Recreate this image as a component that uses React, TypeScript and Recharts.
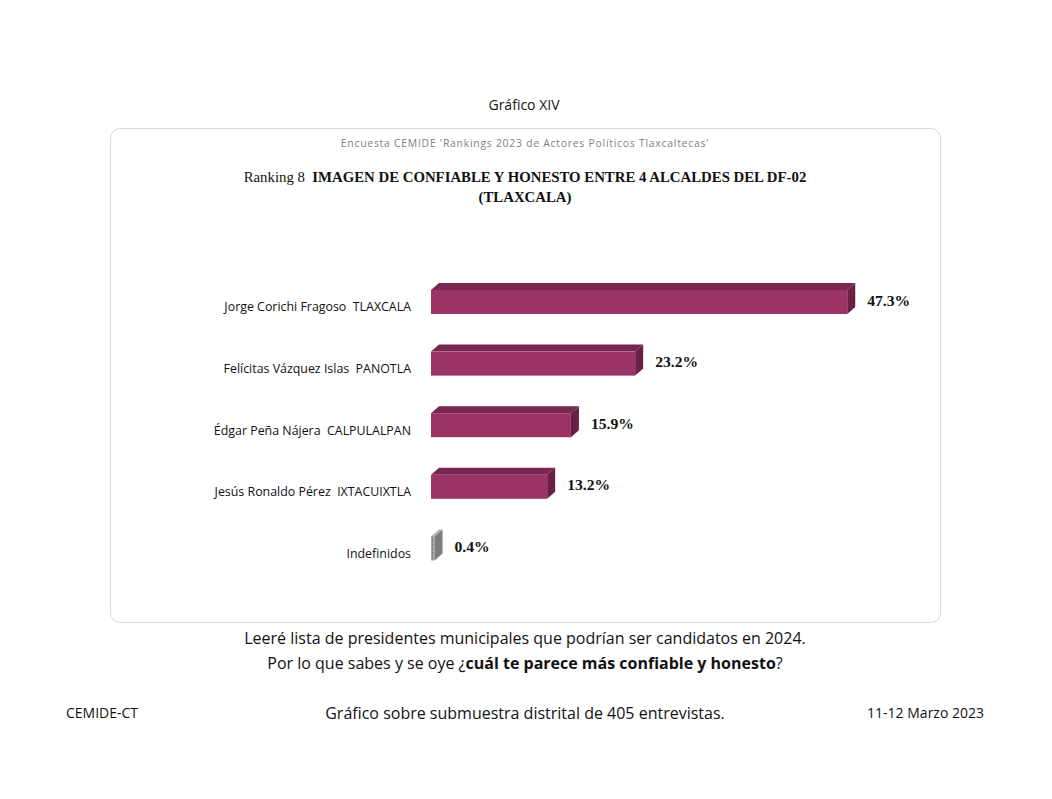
import React from 'react';
import { BarChart, Bar, XAxis, YAxis, LabelList } from 'recharts';

const categories = [
  'Jorge Corichi Fragoso  TLAXCALA',
  'Felícitas Vázquez Islas  PANOTLA',
  'Édgar Peña Nájera  CALPULALPAN',
  'Jesús Ronaldo Pérez  IXTACUIXTLA',
  'Indefinidos',
];
const values = [47.3, 23.2, 15.9, 13.2, 0.4];

const data = categories.map((name, i) => ({ name, value: values[i] }));

const SANS = '"Open Sans", sans-serif';
const SERIF = '"Liberation Serif", serif';
const DX = 8;
const DY = 7;

const Bar3D = (props: any) => {
  const { x, y, width, height, payload } = props;
  const grey = payload.name === 'Indefinidos';
  const front = grey ? 'url(#dots)' : '#9b3366';
  const top = grey ? '#b5b5b5' : '#7a2652';
  const side = grey ? '#7d7d7d' : '#6a1f45';
  const x2 = x + width;
  const y2 = y + height;
  return (
    <g>
      <polygon points={`${x},${y} ${x + DX},${y - DY} ${x2 + DX},${y - DY} ${x2},${y}`} fill={top} />
      <polygon points={`${x2},${y} ${x2 + DX},${y - DY} ${x2 + DX},${y2 - DY} ${x2},${y2}`} fill={side} />
      <rect x={x} y={y} width={width} height={height} fill={front} />
    </g>
  );
};

const ValueLabel = (props: any) => {
  const { x, y, width, height, value } = props;
  return (
    <text
      x={x + width + 20}
      y={y + height / 2 - 2}
      dominantBaseline="central"
      fontFamily={SERIF}
      fontWeight="bold"
      fontSize={15.6}
      fill="#111"
    >
      {`${value}%`}
    </text>
  );
};

const NameTick = (props: any) => {
  const { x, y, payload } = props;
  return (
    <text
      x={x}
      y={y + 5}
      textAnchor="end"
      dominantBaseline="central"
      fontFamily={SANS}
      fontSize={12.4}
      fill="#111"
      style={{ whiteSpace: 'pre' }}
    >
      {payload.value}
    </text>
  );
};

const abs = (left: number, top: number, width: number, extra: React.CSSProperties = {}): React.CSSProperties => ({
  position: 'absolute',
  left,
  top,
  width,
  fontFamily: SANS,
  color: '#111',
  whiteSpace: 'pre',
  ...extra,
});

export default function App() {
  return (
    <div style={{ position: 'absolute', left: 0, top: 0, width: 1052, height: 799, background: '#fff', overflow: 'hidden' }}>
      <div style={abs(0, 95, 1048, { textAlign: 'center', fontSize: 14, lineHeight: '20px' })}>Gráfico XIV</div>

      <div
        style={{
          position: 'absolute',
          left: 110,
          top: 128,
          width: 829,
          height: 493,
          border: '1px solid #d9d9d9',
          borderRadius: 10,
        }}
      />

      <div
        style={abs(110, 135, 830, {
          textAlign: 'center',
          fontSize: 10.4,
          letterSpacing: 0.75,
          color: '#808080',
          lineHeight: '16px',
        })}
      >
        Encuesta CEMIDE 'Rankings 2023 de Actores Políticos Tlaxcaltecas'
      </div>

      <div style={abs(110, 167, 830, { textAlign: 'center', fontFamily: SERIF, fontSize: 14.8, lineHeight: '20px' })}>
        Ranking 8  <b>IMAGEN DE CONFIABLE Y HONESTO ENTRE 4 ALCALDES DEL DF-02</b>
        {'\n'}
        <b>(TLAXCALA)</b>
      </div>

      <div style={{ position: 'absolute', left: 0, top: 0 }}>
        <BarChart
          width={1052}
          height={799}
          layout="vertical"
          data={data}
          margin={{ top: 271, right: 93, bottom: 220, left: 0 }}
          barCategoryGap={0}
        >
          <XAxis type="number" domain={[0, 60]} hide />
          <YAxis
            type="category"
            dataKey="name"
            width={431}
            axisLine={false}
            tickLine={false}
            tickSize={0}
            tickMargin={20}
            tick={<NameTick />}
            interval={0}
          />
          <Bar dataKey="value" barSize={24} shape={<Bar3D />} isAnimationActive={false}>
            <LabelList dataKey="value" content={<ValueLabel />} />
          </Bar>
          <defs>
            <pattern id="dots" width="2" height="2" patternUnits="userSpaceOnUse">
              <rect width="2" height="2" fill="#a6a6a6" />
              <rect width="1" height="1" fill="#6f6f6f" />
            </pattern>
          </defs>
        </BarChart>
      </div>

      <div style={abs(0, 626, 1050, { textAlign: 'center', fontSize: 16, lineHeight: '25px' })}>
        Leeré lista de presidentes municipales que podrían ser candidatos en 2024.
        {'\n'}
        Por lo que sabes y se oye ¿<b>cuál te parece más confiable y honesto</b>?
      </div>

      <div style={abs(66, 702, 120, { fontSize: 14, lineHeight: '22px' })}>CEMIDE-CT</div>
      <div style={abs(0, 701, 1050, { textAlign: 'center', fontSize: 16, lineHeight: '24px' })}>
        Gráfico sobre submuestra distrital de 405 entrevistas.
      </div>
      <div style={abs(784, 702, 200, { textAlign: 'right', fontSize: 14, lineHeight: '22px' })}>11-12 Marzo 2023</div>
    </div>
  );
}
